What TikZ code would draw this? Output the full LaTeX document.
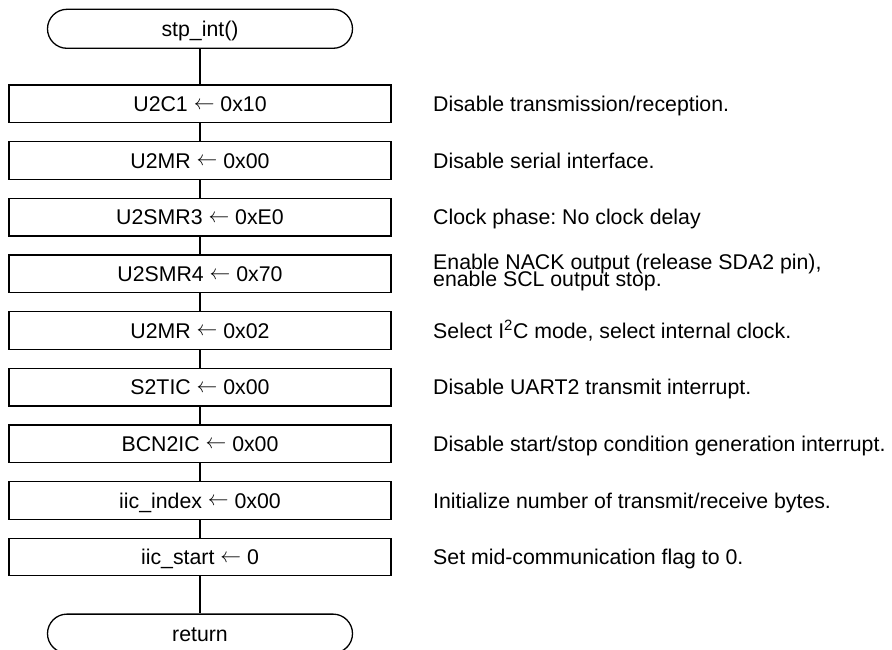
\documentclass[tikz,border=0pt]{standalone}
\usepackage{fontspec}
\setmainfont{Liberation Sans}
\frenchspacing
% assignment arrow, lifted to sit at cap-height middle
\newcommand{\asg}{\raisebox{2.4pt}{$\leftarrow$}}
\begin{document}
\begin{tikzpicture}[x=1pt,y=-1pt,
  every node/.style={font=\fontsize{21.3}{17.3}\selectfont},
  flowline/.style={line width=1.3pt},
  procbox/.style={draw,line width=1.3pt,minimum width=382pt,minimum height=37.6pt,
    inner sep=0pt,text height=15.2pt,text depth=0pt},
  termbox/.style={draw,line width=1.3pt,rounded corners=19.5pt,minimum width=305pt,
    minimum height=39pt,inner sep=0pt,text height=15.2pt,text depth=0pt},
  note/.style={anchor=base west,inner sep=0pt,align=left}]
\useasboundingbox (0,0) rectangle (892,650);

% terminals
\node[termbox] (start) at (200,28.8) {stp\_int()};
\node[termbox] (ret) at (200,633.6) {return};

% process steps
\node[procbox] (s1) at (200,103.9) {U2C1 \asg{} 0x10};
\node[procbox] (s2) at (200,160.5) {U2MR \asg{} 0x00};
\node[procbox] (s3) at (200,217.2) {U2SMR3 \asg{} 0xE0};
\node[procbox] (s4) at (200,273.8) {U2SMR4 \asg{} 0x70};
\node[procbox] (s5) at (200,330.5) {U2MR \asg{} 0x02};
\node[procbox] (s6) at (200,387.1) {S2TIC \asg{} 0x00};
\node[procbox] (s7) at (200,443.7) {BCN2IC \asg{} 0x00};
\node[procbox] (s8) at (200,500.4) {iic\_index \asg{} 0x00};
\node[procbox] (s9) at (200,557.0) {iic\_start \asg{} 0};

% connectors
\foreach \a/\b in {start/s1,s1/s2,s2/s3,s3/s4,s4/s5,s5/s6,s6/s7,s7/s8,s8/s9,s9/ret}
  \draw[flowline] (\a) -- (\b);

% comments beside the steps
\node[note] (c1) at (433,111.5) {Disable transmission/reception.};
\node[note] (c2) at (433,168.1) {Disable serial interface.};
\node[note] (c3) at (433,224.8) {Clock phase: No clock delay};
\node[note] (c4a) at (433,269.3) {Enable NACK output (release SDA2 pin),};
\node[note] (c4b) at (433,286.7) {enable SCL output stop.};
\node[note] (c5) at (433,338.1) {Select I\textsuperscript{2}C mode, select internal clock.};
\node[note] (c6) at (433,394.7) {Disable UART2 transmit interrupt.};
\node[note] (c7) at (433,451.3) {Disable start/stop condition generation interrupt.};
\node[note] (c8) at (433,508.0) {Initialize number of transmit/receive bytes.};
\node[note] (c9) at (433,564.6) {Set mid-communication flag to 0.};
\end{tikzpicture}
\end{document}
